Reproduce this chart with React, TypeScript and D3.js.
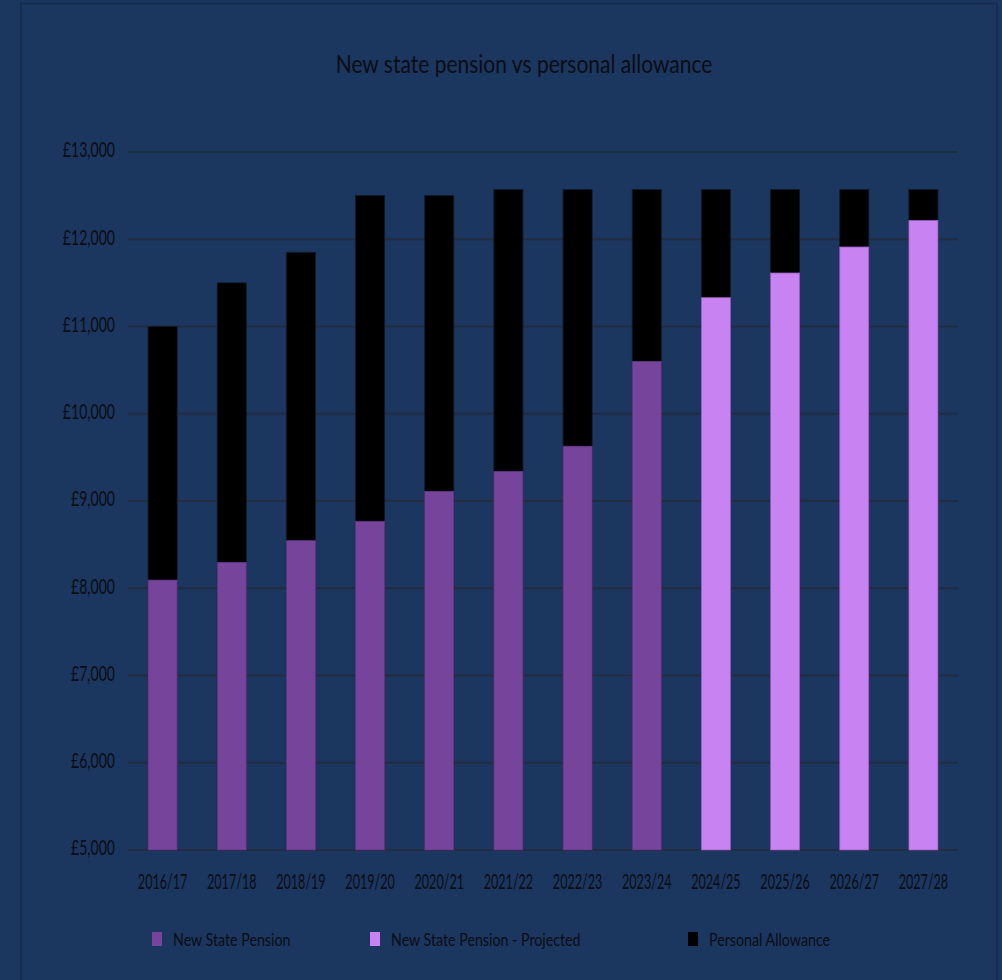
import React from "react";
import * as d3 from "d3";

const categories = ["2016/17","2017/18","2018/19","2019/20","2020/21","2021/22","2022/23","2023/24","2024/25","2025/26","2026/27","2027/28"];
const statePension = [8093.6, 8296.6, 8545.6, 8767.4, 9110.4, 9339.2, 9627.8, 10600.2, null, null, null, null];
const statePensionProjected = [null, null, null, null, null, null, null, null, 11330, 11613, 11911, 12215];
const personalAllowance = [11000, 11500, 11850, 12500, 12500, 12570, 12570, 12570, 12570, 12570, 12570, 12570];
const yTicks = [5000, 6000, 7000, 8000, 9000, 10000, 11000, 12000, 13000];
const legendItems = ["New State Pension", "New State Pension - Projected", "Personal Allowance"];

const W = 1002, H = 980;
const BG = "#1b365f";
const C_PENSION = "#76449b";
const C_PROJ = "#c882f2";
const C_PA = "#000000";
const TXT = "#0b0d14";
const FONT = "Lato, 'Open Sans', sans-serif";

export default function App() {
  const x = d3.scaleBand<string>().domain(categories).range([128, 958]).paddingInner(0.58).paddingOuter(0.29);
  const y = d3.scaleLinear().domain([5000, 13000]).range([850, 152]);
  const fmt = (v: number) => "£" + d3.format(",")(v);
  const bw = x.bandwidth();
  const legendX = [152, 370, 688];
  const legendColors = [C_PENSION, C_PROJ, C_PA];

  return (
    <svg width={W} height={H} style={{ position: "absolute", left: 0, top: 0, display: "block" }}>
      <rect x={0} y={0} width={W} height={H} fill={BG} />
      <rect x={21} y={3.5} width={976} height={1000} fill="none" stroke="#172c4e" strokeWidth={2} />
      <text transform={`translate(524,73) scale(0.84,1)`} textAnchor="middle" fontFamily={FONT} fontSize={25} fill={TXT}>
        New state pension vs personal allowance
      </text>
      {yTicks.map((t) => (
        <g key={t}>
          <line x1={128} x2={958} y1={y(t)} y2={y(t)} stroke="#222c40" strokeWidth={2} />
          <text transform={`translate(115,${y(t)}) scale(0.67,1)`} textAnchor="end" dominantBaseline="middle" fontFamily={FONT} fontSize={21} fill={TXT}>
            {fmt(t)}
          </text>
        </g>
      ))}
      {categories.map((c, i) => {
        const x0 = x(c)!;
        const pa = personalAllowance[i];
        const p = statePension[i];
        const pp = statePensionProjected[i];
        return (
          <g key={c}>
            <rect x={x0} y={y(pa)} width={bw} height={y(5000) - y(pa)} fill={C_PA} stroke="#10182a" strokeWidth={0.8} />
            {p != null && (
              <rect x={x0} y={y(p)} width={bw} height={y(5000) - y(p)} fill={C_PENSION} stroke="#5f3683" strokeWidth={0.8} />
            )}
            {pp != null && (
              <rect x={x0} y={y(pp)} width={bw} height={y(5000) - y(pp)} fill={C_PROJ} stroke="#9a5dc2" strokeWidth={0.8} />
            )}
            <text transform={`translate(${x0 + bw / 2},889) scale(0.6,1)`} textAnchor="middle" fontFamily={FONT} fontSize={21} fill={TXT}>
              {c}
            </text>
          </g>
        );
      })}
      {legendItems.map((l, i) => (
        <g key={l}>
          <rect x={legendX[i]} y={932} width={10} height={14} fill={legendColors[i]} />
          <text transform={`translate(${legendX[i] + 21},946) scale(0.79,1)`} fontFamily={FONT} fontSize={18} fill={TXT}>
            {l}
          </text>
        </g>
      ))}
    </svg>
  );
}
